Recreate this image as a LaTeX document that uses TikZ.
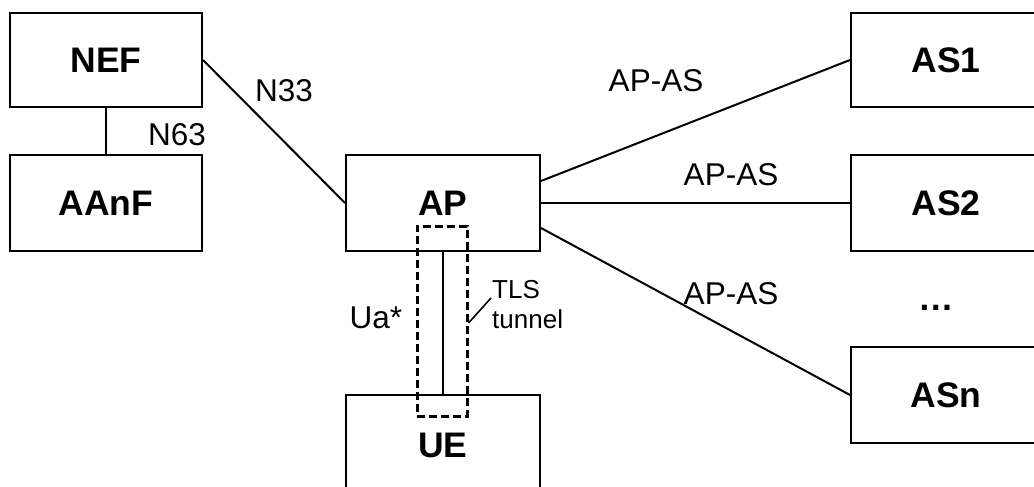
\documentclass[tikz,border=0pt]{standalone}
\usepackage{fontspec}
\setmainfont{Liberation Sans}
\begin{document}
\begin{tikzpicture}[x=1pt,y=-1pt,
  box/.style={draw, line width=2pt, minimum width=192pt, minimum height=94pt, inner sep=0pt,
    font=\fontsize{35.5}{40}\selectfont\bfseries},
  lbl/.style={inner sep=0pt, anchor=base, font=\fontsize{31.5}{36}\selectfont},
  small/.style={inner sep=0pt, anchor=base west, font=\fontsize{26}{30}\selectfont},
  conn/.style={line width=2pt},
  tunnelbox/.style={draw, line width=3pt, dash pattern=on 8pt off 4pt, minimum width=50pt, minimum height=190pt, inner sep=0pt}]
\useasboundingbox (0,0) rectangle (1034,487);
\clip (0,0) rectangle (1034,487);
% boxes
\node[box] (NEF) at (106,60) {NEF};
\node[box, minimum height=96pt] (AAnF) at (106,203) {AAnF};
\node[box, minimum width=194pt, minimum height=96pt] (AP) at (443,203) {AP};
\node[box, minimum width=194pt, minimum height=100pt] (UE) at (443,445) {UE};
\node[box, minimum width=190pt] (AS1) at (946,60) {AS1};
\node[box, minimum width=190pt, minimum height=96pt] (AS2) at (946,203) {AS2};
\node[box, minimum width=190pt, minimum height=96pt] (ASn) at (946,395) {ASn};
\node[inner sep=0pt, anchor=base, font=\fontsize{35.5}{40}\selectfont\bfseries] (dots) at (936,310) {…};
% connectors
\draw[conn] (NEF.south) -- (AAnF.north);
\draw[conn] (NEF.east) -- (AP.west);
\draw[conn] ([yshift=22pt]AP.east) -- (AS1.west);
\draw[conn] (AP.east) -- (AS2.west);
\draw[conn] ([yshift=-25pt]AP.east) -- (ASn.west);
\draw[conn] (AP.south) -- (UE.north);
% TLS tunnel
\node[tunnelbox] (tls) at (442,321) {};
\coordinate (tlstip) at (491,298);
\draw[conn, line width=1.6pt] ([yshift=-2pt]tls.east) -- (tlstip);
% labels
\node[lbl] (lN33) at (284,102) {N33};
\node[lbl] (lN63) at (177,145) {N63};
\node[lbl] (lAS1) at (656,92) {AP-AS};
\node[lbl] (lAS2) at (731,185) {AP-AS};
\node[lbl] (lASn) at (731,304) {AP-AS};
\node[lbl] (lUa) at (376,328) {Ua*};
\node[small] (lTLS) at (492,298) {TLS};
\node[small] (lTun) at (492,328) {tunnel};
\end{tikzpicture}
\end{document}
